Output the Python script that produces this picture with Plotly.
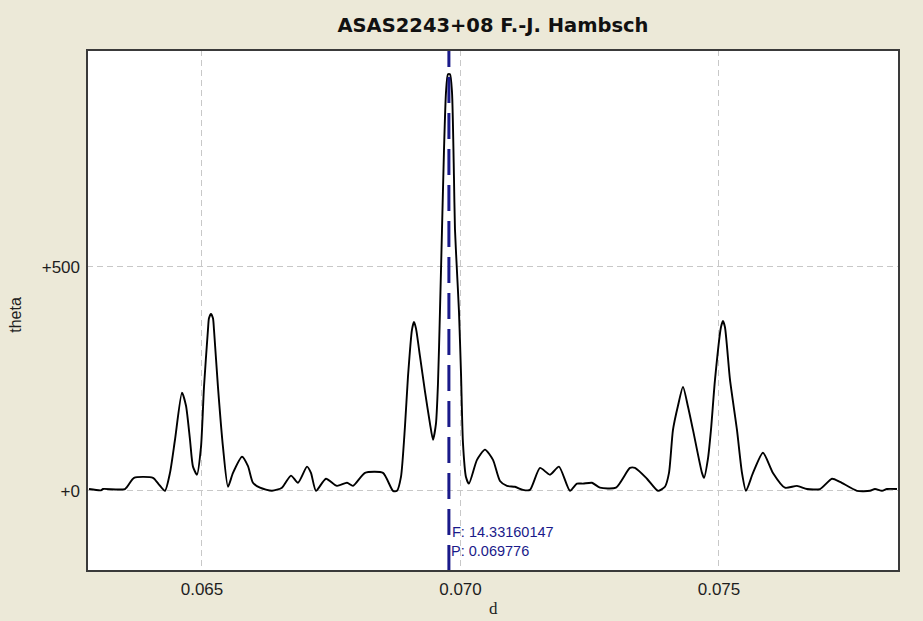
import plotly.graph_objects as go

# Periodogram: trial period d versus theta statistic
period_d = [
    0.062814, 0.063046, 0.063085, 0.063511, 0.063685, 0.064052, 0.064168, 0.064284,
    0.064381, 0.064478, 0.064613, 0.064691, 0.064768, 0.064826, 0.064903, 0.064981,
    0.065039, 0.065116, 0.065135, 0.065174, 0.065213, 0.065232, 0.065309, 0.065406,
    0.065503, 0.065600, 0.065774, 0.065890, 0.065986, 0.066122, 0.066354, 0.066547,
    0.066721, 0.066857, 0.067031, 0.067108, 0.067205, 0.067398, 0.067611, 0.067805,
    0.067921, 0.068153, 0.068501, 0.068694, 0.068772, 0.068849, 0.068926, 0.068984,
    0.069062, 0.069101, 0.069140, 0.069217, 0.069313, 0.069410, 0.069468, 0.069526,
    0.069565, 0.069603, 0.069642, 0.069681, 0.069720, 0.069758, 0.069797, 0.069836,
    0.069874, 0.069893, 0.069932, 0.069971, 0.070010, 0.070048, 0.070106, 0.070164,
    0.070319, 0.070474, 0.070629, 0.070764, 0.070899, 0.071054, 0.071209, 0.071344,
    0.071538, 0.071731, 0.071905, 0.072118, 0.072253, 0.072369, 0.072543, 0.072698,
    0.073008, 0.073278, 0.073375, 0.073607, 0.073820, 0.073955, 0.074033, 0.074110,
    0.074207, 0.074304, 0.074400, 0.074497, 0.074671, 0.074710, 0.074787, 0.074845,
    0.074923, 0.075038, 0.075077, 0.075116, 0.075213, 0.075348, 0.075445, 0.075522,
    0.075658, 0.075851, 0.076044, 0.076277, 0.076509, 0.076702, 0.076954, 0.077186,
    0.077340, 0.077669, 0.077921, 0.078017, 0.078153, 0.078249, 0.078443,
]
theta = [
    4, 1, 4, 4, 29, 29, 14, 0,
    40, 114, 219, 190, 114, 54, 36, 98,
    232, 360, 385, 395, 385, 360, 232, 98,
    9, 40, 76, 55, 18, 7, 0, 7,
    34, 18, 54, 40, 0, 27, 11, 18,
    11, 40, 40, 0, 0, 31, 143, 254,
    360, 377, 362, 300, 222, 150, 114, 150,
    240, 400, 580, 760, 890, 930, 930, 890,
    700, 585, 490, 400, 263, 107, 31, 16,
    69, 92, 69, 22, 11, 9, 2, 2,
    51, 36, 54, 0, 16, 16, 18, 7,
    7, 51, 51, 27, 0, 9, 40, 136,
    190, 232, 188, 136, 40, 29, 72, 136,
    248, 365, 379, 365, 248, 136, 40, 0,
    40, 85, 40, 7, 11, 4, 4, 27,
    20, 0, 0, 4, 0, 4, 4,
]

best_frequency = 14.33160147
best_period = 0.069776

x_ticks = [0.065, 0.070, 0.075]
x_tick_labels = ["0.065", "0.070", "0.075"]
y_ticks = [0, 500]
y_tick_labels = ["+0", "+500"]

x_range = [0.062776, 0.078482]
y_range = [-179, 984]

BG = "#ECE9D8"
NAVY = "#1A1A8A"
GRID = "#C8C8C8"
TICK_FONT = dict(family="Liberation Sans, Arial, sans-serif", size=17, color="#1E1E1E")

fig = go.Figure()

fig.add_trace(go.Scatter(
    x=period_d, y=theta, mode="lines",
    line=dict(color="black", width=1.9, shape="spline", smoothing=0.6),
    hoverinfo="skip", showlegend=False,
))

# Best period marker
fig.add_shape(
    type="line", xref="x", yref="paper",
    x0=best_period, x1=best_period, y0=0, y1=1,
    line=dict(color=NAVY, width=3, dash="26px,10px"),
    layer="above",
)

# Frame around the plotting area
fig.add_shape(
    type="rect", xref="paper", yref="paper", x0=0, x1=1, y0=0, y1=1,
    line=dict(color="#3A3A3A", width=2), layer="above",
)

ann_font = dict(family="Liberation Sans, Arial, sans-serif", size=14.5, color=NAVY)
fig.add_annotation(
    x=best_period, y=-91, xref="x", yref="y",
    text=f"F: {best_frequency:.8f}", showarrow=False,
    xanchor="left", yanchor="middle", xshift=1, font=ann_font,
)
fig.add_annotation(
    x=best_period, y=-135, xref="x", yref="y",
    text=f"P: {best_period:.6f}", showarrow=False,
    xanchor="left", yanchor="middle", xshift=0, font=ann_font,
)

# Axis titles
fig.add_annotation(
    x=0.5, y=0, xref="paper", yref="paper",
    text="d", showarrow=False, yanchor="middle", yshift=-37,
    font=dict(family="Liberation Serif, Times New Roman, serif", size=17, color="#1E1E1E"),
)
fig.add_annotation(
    x=0, y=393, xref="paper", yref="y",
    text="theta", showarrow=False, textangle=-90,
    xanchor="center", yanchor="middle", xshift=-71,
    font=dict(family="Liberation Sans, Arial, sans-serif", size=16, color="#1E1E1E"),
)

fig.update_layout(
    width=923, height=621,
    margin=dict(l=87, r=24, t=50, b=50),
    paper_bgcolor=BG, plot_bgcolor="white",
    title=dict(
        text="ASAS2243+08 F.-J. Hambsch",
        x=0.5, xref="paper", xanchor="center",
        y=1 - 25.5 / 621, yanchor="middle",
        font=dict(family="DejaVu Sans, Verdana, sans-serif", size=19.5, color="#111111", weight="bold"),
    ),
    showlegend=False,
)

fig.update_xaxes(
    range=x_range, tickvals=x_ticks, ticktext=x_tick_labels,
    showgrid=True, gridcolor=GRID, griddash="6px,4px", gridwidth=1,
    zeroline=False, showline=False, ticks="", ticklabelstandoff=6,
    tickfont=TICK_FONT, fixedrange=True,
)
fig.update_yaxes(
    range=y_range, tickvals=y_ticks, ticktext=y_tick_labels,
    showgrid=True, gridcolor=GRID, griddash="6px,4px", gridwidth=1,
    zeroline=False, showline=False, ticks="", ticklabelstandoff=6,
    tickfont=TICK_FONT, fixedrange=True,
)

fig.write_html("out.html")
